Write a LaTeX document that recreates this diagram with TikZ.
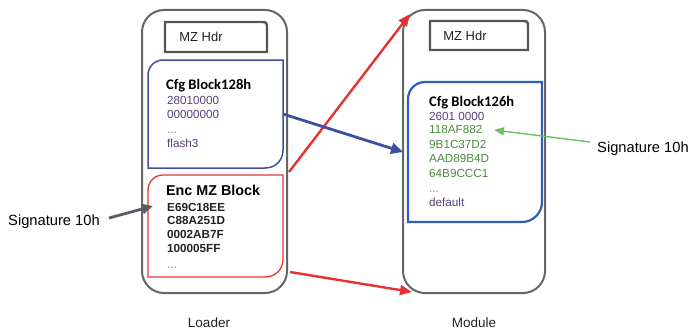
\documentclass[tikz,border=0pt]{standalone}
\usepackage{fontspec}
\setmainfont{Liberation Sans}
\newfontfamily\calib{Carlito}
\usetikzlibrary{arrows.meta}
\definecolor{boxgray}{HTML}{666666}
\definecolor{hdrgray}{HTML}{555555}
\definecolor{blueA}{HTML}{3F4FA0}
\definecolor{blueB}{HTML}{2E5EB8}
\definecolor{redA}{HTML}{E53333}
\definecolor{purp}{HTML}{55407A}
\definecolor{grn}{HTML}{4A8C3C}
\definecolor{grnarrow}{HTML}{6DBE65}
\definecolor{txt}{HTML}{222222}
\definecolor{arrgray}{HTML}{5A5E66}
\tikzset{
  outerbox/.style={draw=boxgray, line width=2pt, rounded corners=22pt, inner sep=0pt},
  hdrline/.style={draw=hdrgray, line width=2.4pt},
  lbl/.style={anchor=base west, inner sep=0pt},
  hexsm/.style={lbl, font=\fontsize{11.7}{12}\selectfont},
  titlec/.style={lbl, font=\calib\bfseries\fontsize{14.6}{15}\selectfont, text=black},
  redarrow/.style={draw=redA, line width=2.4pt, -{Triangle[length=12pt,width=10pt]}},
  bluearrow/.style={draw=blueA, line width=2.8pt, -{Triangle[length=12pt,width=11pt]}},
  grayarrow/.style={draw=arrgray, line width=2.8pt, -{Triangle[length=11pt,width=10pt]}},
  greenarrow/.style={draw=grnarrow, line width=1.4pt, -{Triangle[length=10pt,width=8pt]}},
  sig/.style={lbl, font=\fontsize{14.7}{15}\selectfont, text=black},
  caption/.style={anchor=base, inner sep=0pt, font=\fontsize{13.5}{14}\selectfont, text=txt},
}
\begin{document}
\begin{tikzpicture}[x=1pt,y=-1pt]
\useasboundingbox[fill=white] (0,0) rectangle (692,329);

% outer boxes
\node[outerbox, minimum width=145pt, minimum height=283pt] (loader) at (214.5,151.5) {};
\node[outerbox, minimum width=142pt, minimum height=283pt] (module) at (474,151.5) {};

% MZ Hdr boxes
\draw[hdrline] (165,22) -- (260,22) .. controls (267,22) .. (267,29) -- (267,52) -- (165,52) -- cycle;
\node[anchor=center, inner sep=0pt, font=\fontsize{13}{14}\selectfont, text=txt] (hdrL) at (201,37) {MZ Hdr};
\draw[hdrline] (430,21) -- (521,21) .. controls (528,21) .. (528,28) -- (528,50) -- (430,50) -- cycle;
\node[anchor=center, inner sep=0pt, font=\fontsize{13}{14}\selectfont, text=txt] (hdrM) at (465,36) {MZ Hdr};

% loader cfg block
\draw[draw=blueA, line width=1.5pt] (148,168) -- (148,75) .. controls (148,66.7) and (154.7,60) .. (163,60)
  -- (283,60) -- (283,150) .. controls (283,159.9) and (275.9,168) .. (265,168) -- cycle;
\node[titlec] (cfgL) at (166,89) {Cfg Block128h};
\node[hexsm, text=purp] (l1) at (167,104) {28010000};
\node[hexsm, text=purp] (l2) at (167,118) {00000000};
\node[hexsm, text=purp!70] (l3) at (167,133) {...};
\node[hexsm, text=purp] (l4) at (167,147) {flash3};

% enc block
\draw[draw=redA, line width=1.3pt] (148,277) -- (148,190) .. controls (148,181.7) and (154.7,175) .. (163,175)
  -- (283,175) -- (283,259) .. controls (283,268.9) and (275.9,277) .. (265,277) -- cycle;
\node[lbl, font=\bfseries\fontsize{14.3}{15}\selectfont, text=black] (encL) at (166,195) {Enc MZ Block};
\node[hexsm, font=\bfseries\fontsize{11.7}{12}\selectfont, text=txt] (e1) at (167,211) {E69C18EE};
\node[hexsm, font=\bfseries\fontsize{11.7}{12}\selectfont, text=txt] (e2) at (167,224.5) {C88A251D};
\node[hexsm, font=\bfseries\fontsize{11.7}{12}\selectfont, text=txt] (e3) at (167,238) {0002AB7F};
\node[hexsm, font=\bfseries\fontsize{11.7}{12}\selectfont, text=txt] (e4) at (167,252) {100005FF};
\node[hexsm, text=gray] (e5) at (167,268) {...};

% module cfg block
\draw[draw=blueB, line width=2.2pt] (408,222) -- (408,99) .. controls (408,89.6) and (415.6,82) .. (425,82)
  -- (542,82) -- (542,202) .. controls (542,213) and (533,222) .. (522,222) -- cycle;
\node[titlec] (cfgM) at (429,106) {Cfg Block126h};
\node[hexsm, text=purp] (m1) at (429,120) {2601 0000};
\node[hexsm, text=grn] (m2) at (429,133.5) {118AF882};
\node[hexsm, text=grn] (m3) at (429,148) {9B1C37D2};
\node[hexsm, text=grn] (m4) at (429,162.5) {AAD89B4D};
\node[hexsm, text=grn] (m5) at (429,177) {64B9CCC1};
\node[hexsm, text=blueB!70] (m6) at (429,192) {...};
\node[hexsm, text=purp] (m7) at (429,206) {default};

% signature labels
\node[sig] (sigL) at (8,225) {Signature 10h};
\node[sig] (sigR) at (597,152) {Signature 10h};

% captions
\node[caption] (capL) at (209,327) {Loader};
\node[caption] (capM) at (474,327) {Module};

% connector end points
\coordinate (rs1) at (289,172);
\coordinate (rt1) at (410,14);
\coordinate (rs2) at (290,272);
\coordinate (rt2) at (412,292);
\coordinate (bs) at (283,114);
\coordinate (bt) at (403,152);
\coordinate (gs) at (109,218);
\coordinate (gt) at (153,206);
\coordinate (ns) at (590,142);
\coordinate (nt) at (494,130);

\draw[redarrow] (rs1) -- (rt1);
\draw[redarrow] (rs2) -- (rt2);
\draw[bluearrow] (bs) -- (bt);
\draw[grayarrow] (gs) -- (gt);
\draw[greenarrow] (ns) -- (nt);
\end{tikzpicture}
\end{document}
